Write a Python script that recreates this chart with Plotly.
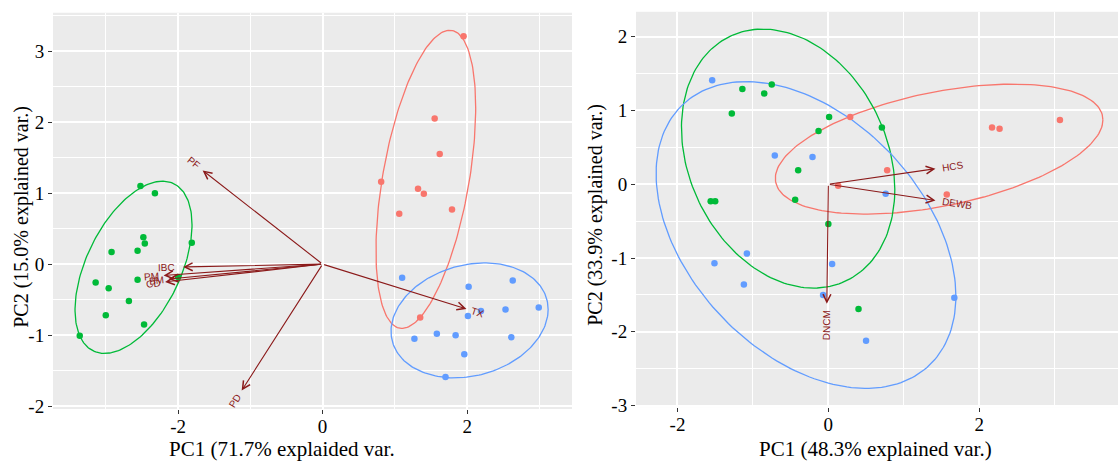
import numpy as np
import plotly.graph_objects as go

# ---------------- Left biplot: PC scores by group ----------------
left_red_pc1 = [1.95, 1.55, 1.62, 0.81, 1.32, 1.40, 1.79, 1.06, 1.35]
left_red_pc2 = [3.21, 2.05, 1.55, 1.16, 1.06, 0.99, 0.77, 0.71, -0.75]

left_green_pc1 = [-2.52, -2.32, -2.48, -2.46, -2.92, -2.56, -1.81, -2.00,
                  -2.56, -3.14, -2.96, -2.68, -3.00, -2.47, -3.36]
left_green_pc2 = [1.10, 1.00, 0.38, 0.29, 0.17, 0.19, 0.30, -0.18,
                  -0.22, -0.26, -0.34, -0.52, -0.72, -0.85, -1.01]

left_blue_pc1 = [1.10, 2.02, 2.63, 2.01, 2.19, 2.53, 2.99, 1.27, 1.58,
                 1.84, 2.61, 1.96, 1.70]
left_blue_pc2 = [-0.19, -0.32, -0.23, -0.73, -0.66, -0.64, -0.61, -1.05,
                 -0.98, -1.00, -1.03, -1.27, -1.59]

# Left biplot: variable loadings (arrow tips)
left_vars = ["PF", "IBC", "PM", "BM", "CD", "TX", "PD"]
left_load_pc1 = [-1.66, -1.93, -2.20, -2.13, -2.18, 1.99, -1.12]
left_load_pc2 = [1.32, -0.04, -0.16, -0.21, -0.25, -0.63, -1.78]

# ---------------- Right biplot: PC scores by group ----------------
right_red_pc1 = [0.29, 0.78, 0.13, 1.57, 2.17, 2.27, 3.07]
right_red_pc2 = [0.91, 0.19, -0.02, -0.14, 0.77, 0.75, 0.87]

right_green_pc1 = [-1.14, -0.85, -0.75, -1.28, 0.01, -0.13, 0.71, -0.40,
                   -0.44, -1.56, -1.50, 0.00, 0.40]
right_green_pc2 = [1.29, 1.23, 1.35, 0.96, 0.91, 0.72, 0.77, 0.19,
                   -0.21, -0.23, -0.23, -0.54, -1.69]

right_blue_pc1 = [-1.54, -0.71, -0.21, 0.76, -1.51, -1.08, -1.12, 0.05,
                  -0.07, 1.67, 0.50]
right_blue_pc2 = [1.41, 0.39, 0.37, -0.13, -1.07, -0.94, -1.36, -1.08,
                  -1.50, -1.54, -2.12]

# Right biplot: variable loadings (arrow tips)
right_vars = ["HCS", "DEWB", "DNCM"]
right_load_pc1 = [1.42, 1.42, -0.02]
right_load_pc2 = [0.21, -0.22, -1.62]

# Axis titles and ticks
left_xtitle = "PC1 (71.7% explaided var."
left_ytitle = "PC2 (15.0% explained var.)"
right_xtitle = "PC1 (48.3% explained var.)"
right_ytitle = "PC2 (33.9% explained var.)"
left_xticks = [-2, 0, 2]
left_yticks = [-2, -1, 0, 1, 2, 3]
right_xticks = [-2, 0, 2]
right_yticks = [-3, -2, -1, 0, 1, 2]

# ---------------- styling ----------------
RED, GREEN, BLUE = "#F8766D", "#00BA38", "#619CFF"
ARROW = "#8B1A1A"
PANEL_BG = "#EBEBEB"
SERIF = "Liberation Serif"
SANS = "Liberation Sans"
ELLIPSE_SCALE = 1.96  # normal-data ellipse radius (in standard deviations)

W, H = 1118, 470
# plot areas in pixels: (left, right, top, bottom)
LEFT_BOX = (53, 572, 13, 417)
RIGHT_BOX = (636, 1118, 12, 415)
LEFT_RANGE_X, LEFT_RANGE_Y = [-3.73, 3.45], [-2.04, 3.54]
RIGHT_RANGE_X, RIGHT_RANGE_Y = [-2.55, 3.84], [-3.02, 2.337]


def ellipse(xs, ys, n=200):
    pts = np.column_stack([xs, ys]).astype(float)
    mu = pts.mean(axis=0)
    sigma = np.cov(pts, rowvar=False)
    chol = np.linalg.cholesky(sigma)
    t = np.linspace(0, 2 * np.pi, n)
    circle = np.column_stack([np.cos(t), np.sin(t)])
    ell = circle @ chol.T * ELLIPSE_SCALE + mu
    return ell[:, 0], ell[:, 1]


fig = go.Figure()


def add_groups(groups, xa, ya):
    for xs, ys, col in groups:
        ex, ey = ellipse(xs, ys)
        fig.add_trace(go.Scatter(x=ex, y=ey, mode="lines", xaxis=xa, yaxis=ya,
                                 line=dict(color=col, width=1.3),
                                 hoverinfo="skip", showlegend=False))
    for xs, ys, col in groups:
        fig.add_trace(go.Scatter(x=xs, y=ys, mode="markers", xaxis=xa, yaxis=ya,
                                 marker=dict(color=col, size=6.5),
                                 showlegend=False))


add_groups([(left_red_pc1, left_red_pc2, RED),
            (left_green_pc1, left_green_pc2, GREEN),
            (left_blue_pc1, left_blue_pc2, BLUE)], "x", "y")
add_groups([(right_red_pc1, right_red_pc2, RED),
            (right_green_pc1, right_green_pc2, GREEN),
            (right_blue_pc1, right_blue_pc2, BLUE)], "x2", "y2")

annotations = []


def add_arrows(names, px, py, xref, yref):
    for name, vx, vy in zip(names, px, py):
        annotations.append(dict(
            x=vx, y=vy, ax=0, ay=0, xref=xref, yref=yref,
            axref=xref, ayref=yref, text="", showarrow=True,
            arrowhead=5, arrowsize=1.4, arrowwidth=1.1, arrowcolor=ARROW,
            standoff=0, startstandoff=0))
        # label placed just beyond the tip, rotated along the arrow
        ang = np.degrees(np.arctan(vy / vx)) if vx != 0 else 90.0
        norm = np.hypot(vx, vy)
        ux, uy = vx / norm, vy / norm
        dist = 0.75 * 6.6 * len(name) + 2
        annotations.append(dict(
            x=vx, y=vy, xref=xref, yref=yref, text=name, showarrow=False,
            textangle=-ang, xshift=ux * dist, yshift=uy * dist,
            font=dict(family=SANS, size=10, color=ARROW),
            xanchor="center", yanchor="middle"))


add_arrows(left_vars, left_load_pc1, left_load_pc2, "x", "y")
add_arrows(right_vars, right_load_pc1, right_load_pc2, "x2", "y2")


def px_to_paper_x(p):
    return p / W


def px_to_paper_y(p):
    return 1 - p / H


xtitle_font = dict(family=SERIF, size=21, color="black")
ytitle_font = dict(family=SERIF, size=20, color="black")
annotations += [
    dict(text=left_xtitle, x=px_to_paper_x(282), y=px_to_paper_y(458),
         xref="paper", yref="paper", showarrow=False, font=xtitle_font,
         xanchor="center", yanchor="middle"),
    dict(text=left_ytitle, x=px_to_paper_x(22), y=px_to_paper_y(221),
         xref="paper", yref="paper", showarrow=False, font=ytitle_font,
         textangle=-90, xanchor="center", yanchor="middle"),
    dict(text=right_xtitle, x=px_to_paper_x(875), y=px_to_paper_y(458),
         xref="paper", yref="paper", showarrow=False, font=xtitle_font,
         xanchor="center", yanchor="middle"),
    dict(text=right_ytitle, x=px_to_paper_x(596), y=px_to_paper_y(219),
         xref="paper", yref="paper", showarrow=False, font=ytitle_font,
         textangle=-90, xanchor="center", yanchor="middle"),
]


def axis_common(rng, ticks, minor_dtick, box, horizontal):
    l, r, t, b = box
    dom = [l / W, r / W] if horizontal else [1 - b / H, 1 - t / H]
    return dict(
        range=rng, domain=dom, tickmode="array", tickvals=ticks,
        ticktext=[str(v) for v in ticks],
        showgrid=True, gridcolor="white", gridwidth=1.8,
        minor=dict(dtick=minor_dtick, tick0=0, showgrid=True,
                   gridcolor="white", gridwidth=0.8, ticks=""),
        zeroline=False, showline=False,
        ticks="outside", ticklen=4, tickwidth=1, tickcolor="#333333",
        tickfont=dict(family=SERIF, size=19, color="black"),
        fixedrange=True,
    )


fig.update_layout(
    width=W, height=H,
    margin=dict(l=0, r=0, t=0, b=0),
    paper_bgcolor="white", plot_bgcolor=PANEL_BG,
    showlegend=False,
    xaxis=dict(axis_common(LEFT_RANGE_X, left_xticks, 1, LEFT_BOX, True),
               anchor="y", ticklabelstandoff=-4),
    yaxis=dict(axis_common(LEFT_RANGE_Y, left_yticks, 0.5, LEFT_BOX, False),
               anchor="x"),
    xaxis2=dict(axis_common(RIGHT_RANGE_X, right_xticks, 1, RIGHT_BOX, True),
                anchor="y2", ticklabelstandoff=-4),
    yaxis2=dict(axis_common(RIGHT_RANGE_Y, right_yticks, 0.5, RIGHT_BOX, False),
                anchor="x2"),
    annotations=annotations,
)

fig.write_html("out.html")
